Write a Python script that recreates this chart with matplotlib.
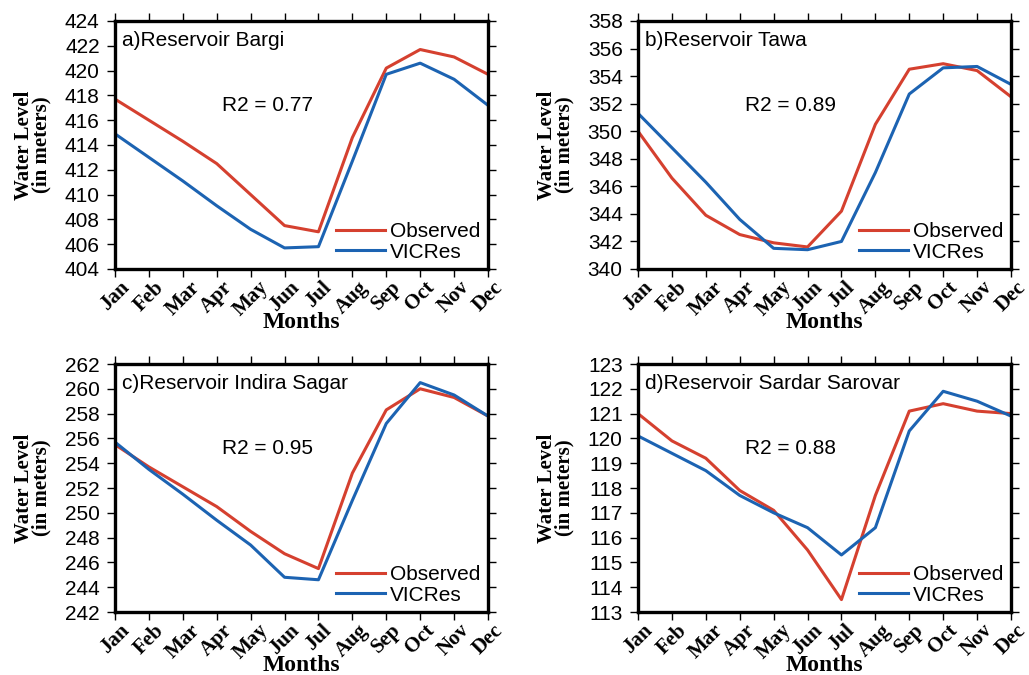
import matplotlib.pyplot as plt

months = ['Jan', 'Feb', 'Mar', 'Apr', 'May', 'Jun', 'Jul', 'Aug', 'Sep', 'Oct', 'Nov', 'Dec']

bargi_obs = [417.7, 416.0, 414.3, 412.5, 410.0, 407.5, 407.0, 414.6, 420.2, 421.7, 421.1, 419.7]
bargi_sim = [414.9, 413.0, 411.1, 409.1, 407.2, 405.7, 405.8, 412.7, 419.7, 420.6, 419.3, 417.2]

tawa_obs = [350.0, 346.6, 343.9, 342.5, 341.9, 341.6, 344.2, 350.5, 354.5, 354.9, 354.4, 352.5]
tawa_sim = [351.3, 348.8, 346.3, 343.6, 341.5, 341.4, 342.0, 347.0, 352.7, 354.6, 354.7, 353.4]

indira_obs = [255.5, 253.7, 252.1, 250.5, 248.5, 246.7, 245.5, 253.2, 258.3, 260.0, 259.3, 257.8]
indira_sim = [255.7, 253.5, 251.5, 249.4, 247.4, 244.8, 244.6, 251.0, 257.2, 260.5, 259.5, 257.8]

sardar_obs = [121.0, 119.9, 119.2, 117.9, 117.1, 115.5, 113.5, 117.7, 121.1, 121.4, 121.1, 121.0]
sardar_sim = [120.1, 119.4, 118.7, 117.7, 117.0, 116.4, 115.3, 116.4, 120.3, 121.9, 121.5, 120.9]

panels = [
    ('a)Reservoir Bargi', 'R2 = 0.77', bargi_obs, bargi_sim, (404, 424), 2),
    ('b)Reservoir Tawa', 'R2 = 0.89', tawa_obs, tawa_sim, (340, 358), 2),
    ('c)Reservoir Indira Sagar', 'R2 = 0.95', indira_obs, indira_sim, (242, 262), 2),
    ('d)Reservoir Sardar Sarovar', 'R2 = 0.88', sardar_obs, sardar_sim, (113, 123), 1),
]

red = '#d5402f'
blue = '#1c63b2'
sans = 'Liberation Sans'
serif = 'Liberation Serif'

fig = plt.figure(figsize=(10.29, 6.75), dpi=100)
W, H = 1029, 675
boxes = [(115, 21), (638, 21), (115, 364), (638, 364)]
aw, ah = 373, 248

for (title, r2, obs, sim, ylim, step), (px, py) in zip(panels, boxes):
    ax = fig.add_axes([px / W, 1 - (py + ah) / H, aw / W, ah / H])
    x = list(range(len(months)))
    ax.plot(x, obs, color=red, lw=2.2, label='Observed')
    ax.plot(x, sim, color=blue, lw=2.2, label='VICRes')
    ax.set_xlim(0, 11)
    ax.set_ylim(*ylim)
    ax.set_yticks(range(ylim[0], ylim[1] + 1, step))
    ax.set_xticks(x)
    ax.set_xticklabels(months, rotation=45, ha='center', va='top',
                       fontfamily=serif, fontweight='bold', fontsize=15)
    for lab in ax.get_yticklabels():
        lab.set_fontfamily(sans)
        lab.set_fontsize(15)
    ax.tick_params(direction='out', length=6, width=1, top=True, right=True)
    ax.tick_params(axis='y', pad=5)
    ax.tick_params(axis='x', pad=0)
    for s in ax.spines.values():
        s.set_linewidth(2.4)
    ax.text(0.02, 0.96, title, transform=ax.transAxes, ha='left', va='top',
            fontfamily=sans, fontsize=15)
    ax.text(0.41, 0.66, r2, transform=ax.transAxes, ha='center', va='center',
            fontfamily=sans, fontsize=15)
    ax.set_xlabel('Months', fontfamily=serif, fontweight='bold', fontsize=17)
    ax.xaxis.set_label_coords(0.5, -0.172)
    ax.set_ylabel('Water Level\n(in meters)', fontfamily=serif, fontweight='bold',
                  fontsize=15, linespacing=0.85)
    ax.yaxis.set_label_coords(-0.17, 0.5)
    ax.legend(loc='lower right', frameon=False, prop={'family': sans, 'size': 15},
              handlelength=2.35, handletextpad=0.25, labelspacing=0.08,
              borderpad=0.2, borderaxespad=0.15)

fig.savefig('out.png', dpi=100)
